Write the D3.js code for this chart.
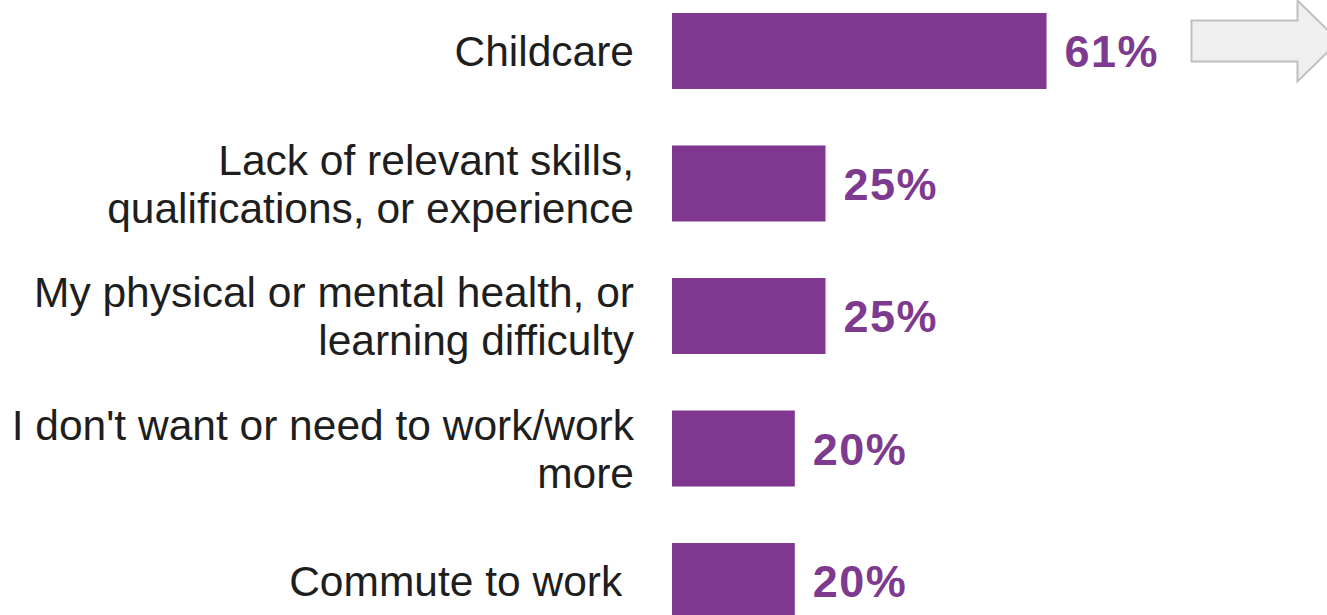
<!DOCTYPE html>
<html>
<head>
<meta charset="utf-8">
<script src="https://cdn.jsdelivr.net/npm/d3@7"></script>
<style>
  html, body { margin: 0; padding: 0; background: #ffffff; }
  svg { display: block; }
  text { font-family: Arial, "Liberation Sans", Helvetica, sans-serif; }
</style>
</head>
<body>
<svg id="chart" width="1327" height="615"></svg>
<script>
// Reasons given, one entry per bar (lines of each label split for wrapping)
const categories = [
  ["Childcare"],
  ["Lack of relevant skills,", "qualifications, or experience"],
  ["My physical or mental health, or", "learning difficulty"],
  ["I don't want or need to work/work", "more"],
  ["Commute to work "]
];
// Share of respondents, percent
const values = [61, 25, 25, 20, 20];
const valueLabels = ["61%", "25%", "25%", "20%", "20%"];

const svg = d3.select("#chart");
const barColor = "#7f3790";
const labelColor = "#7e3a8f";

const x = d3.scaleLinear().domain([0, 100]).range([672, 1286]);
const y = d3.scaleBand()
  .domain(d3.range(values.length))
  .range([13, 619])
  .paddingInner(0.4264)
  .paddingOuter(0);

// Bars
svg.append("g")
  .selectAll("rect")
  .data(values)
  .join("rect")
  .attr("x", x(0))
  .attr("y", (d, i) => y(i))
  .attr("width", d => x(d) - x(0))
  .attr("height", y.bandwidth())
  .attr("fill", barColor);

// Value labels at the end of each bar
svg.append("g")
  .selectAll("text")
  .data(values)
  .join("text")
  .attr("x", d => x(d) + 18)
  .attr("y", (d, i) => y(i) + y.bandwidth() / 2)
  .attr("dy", "0.36em")
  .attr("fill", labelColor)
  .attr("font-size", 45)
  .attr("font-weight", "bold")
  .attr("letter-spacing", 1.5)
  .text((d, i) => valueLabels[i]);

// Category labels, right-aligned to the left of the bars
const lineHeight = 48;
const catG = svg.append("g");
categories.forEach((lines, i) => {
  const cy = y(i) + y.bandwidth() / 2;
  const t = catG.append("text")
    .attr("text-anchor", "end")
    .attr("font-size", 42.5)
    .attr("fill", "#1e1e1e")
    .style("white-space", "pre");
  lines.forEach((line, k) => {
    t.append("tspan")
      .attr("x", 634)
      .attr("y", cy + (k - (lines.length - 1) / 2) * lineHeight)
      .attr("dy", "0.36em")
      .text(line);
  });
});

// Grey outlined arrow pointing right
const arrow = d3.path();
arrow.moveTo(1191.5, 20.5);
arrow.lineTo(1297.5, 20.5);
arrow.lineTo(1297.5, 0.5);
arrow.lineTo(1339, 41);
arrow.lineTo(1297.5, 81.5);
arrow.lineTo(1297.5, 61.5);
arrow.lineTo(1191.5, 61.5);
arrow.closePath();
svg.append("path")
  .attr("d", arrow.toString())
  .attr("fill", "#efefef")
  .attr("stroke", "#bfbfbf")
  .attr("stroke-width", 2);
</script>
</body>
</html>
